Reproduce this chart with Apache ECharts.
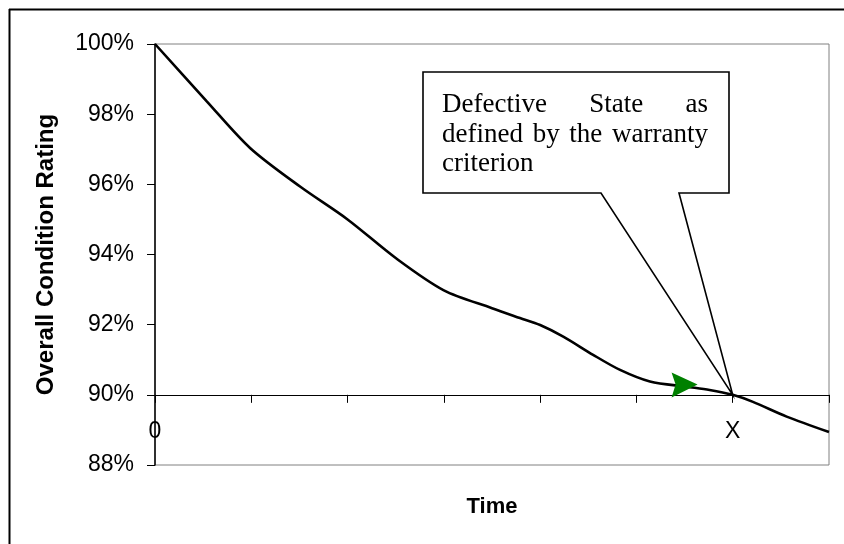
<!DOCTYPE html>
<html><head><meta charset="utf-8">
<script src="https://cdn.jsdelivr.net/npm/echarts@6/dist/echarts.min.js"></script>
<style>html,body{margin:0;padding:0;background:#fff}#c{width:844px;height:544px}</style>
</head><body><div id="c"></div>
<script>
// ---- data ----
const timeValues   = [0, 0.54, 0.99, 1.51, 2.00, 2.50, 3.00, 3.50, 3.79, 4.00, 4.24, 4.55, 4.83, 5.14, 5.52, 5.76, 6.00, 6.21, 6.56, 7.00];
const ratingValues = [100, 98.36, 97.03, 95.93, 95.00, 93.90, 92.98, 92.47, 92.19, 91.99, 91.66, 91.14, 90.71, 90.38, 90.23, 90.14, 90.00, 89.80, 89.38, 88.94];
const xLabelPositions = [0, 6];
const xLabelTexts = ['0', 'X'];
const thresholdTime = 6;
const thresholdRating = 90;
const arrowPoint = [5.50, 90.28];
const calloutLines = [['Defective', 'State', 'as'], ['defined', 'by', 'the', 'warranty'], ['criterion']];
const yAxisTitle = 'Overall Condition Rating';
const xAxisTitle = 'Time';

// ---- chart ----
const SANS = "'Liberation Sans', Arial, sans-serif";
const SERIF = "'Liberation Serif', 'Times New Roman', serif";
const chart = echarts.init(document.getElementById('c'), null, {renderer: 'canvas'});
const option = {
  animation: false,
  backgroundColor: '#fff',
  grid: {left: 155, top: 44, width: 674, height: 421, show: true, borderColor: '#808080', borderWidth: 1},
  xAxis: {
    type: 'value', min: 0, max: 7, interval: 1, position: 'bottom', offset: 0,
    axisLine: {show: true, onZero: false, lineStyle: {color: '#000', width: 1}},
    axisTick: {show: true, inside: false, length: 8, lineStyle: {color: '#000', width: 1}},
    axisLabel: {
      show: true, margin: 25, fontFamily: SANS, fontSize: 23, color: '#000',
      showMinLabel: true, showMaxLabel: true,
      formatter: v => { const i = xLabelPositions.indexOf(v); return i >= 0 ? xLabelTexts[i] : ''; }
    },
    splitLine: {show: false}
  },
  yAxis: {
    type: 'value', min: 88, max: 100, interval: 2,
    name: yAxisTitle, nameLocation: 'middle', nameRotate: 90, nameGap: 97,
    nameTextStyle: {fontFamily: SANS, fontSize: 24, fontWeight: 'bold', color: '#000'},
    axisLine: {show: true, onZero: false, lineStyle: {color: '#000', width: 1.5}},
    axisTick: {show: true, length: 8, lineStyle: {color: '#000', width: 1}},
    axisLabel: {margin: 21, fontFamily: SANS, fontSize: 23, color: '#000', formatter: '{value}%'},
    splitLine: {show: false}
  },
  series: [
    {type: 'line', data: timeValues.map((t, i) => [t, ratingValues[i]]), smooth: 0.3, showSymbol: false,
     lineStyle: {color: '#000', width: 2.6}, z: 3},
    {type: 'scatter', data: [arrowPoint], symbol: 'path://M0,0 L26,12 L0,25 L4,12 Z', symbolSize: [26, 25],
     itemStyle: {color: '#008000', opacity: 1}, z: 4}
  ]
};
chart.setOption(option);

// place x axis on the 90% line
const p90 = chart.convertToPixel({yAxisIndex: 0}, thresholdRating);
const pMin = chart.convertToPixel({yAxisIndex: 0}, 88);
const tip = chart.convertToPixel({xAxisIndex: 0, yAxisIndex: 0}, [thresholdTime, thresholdRating]);

// callout text layout (justified)
const ctx = document.createElement('canvas').getContext('2d');
const fontSize = 27;
ctx.font = fontSize + "px 'Liberation Serif'";
const textLeft = 442, textRight = 708, lineYs = [105, 134.5, 164];
const words = [];
calloutLines.forEach((ln, li) => {
  const widths = ln.map(w => ctx.measureText(w).width);
  const total = widths.reduce((a, b) => a + b, 0);
  const gap = (li < calloutLines.length - 1 && ln.length > 1) ? (textRight - textLeft - total) / (ln.length - 1) : ctx.measureText(' ').width;
  let x = textLeft;
  ln.forEach((w, wi) => {
    words.push({type: 'text', z: 20, style: {text: w, x: x, y: lineYs[li], font: fontSize + 'px ' + SERIF, fill: '#000', textAlign: 'left', textVerticalAlign: 'middle'}});
    x += widths[wi] + gap;
  });
});

chart.setOption({
  xAxis: {offset: p90 - pMin},
  graphic: [
    {type: 'line', z: 10, shape: {x1: 9, y1: 9.5, x2: 844, y2: 9.5}, style: {stroke: '#000', lineWidth: 2}},
    {type: 'line', z: 10, shape: {x1: 9.5, y1: 9, x2: 9.5, y2: 544}, style: {stroke: '#000', lineWidth: 2}},
    {type: 'polygon', z: 15, shape: {points: [[423, 72], [729, 72], [729, 193], [679, 193], tip, [601, 193], [423, 193]]},
     style: {fill: '#fff', stroke: '#000', lineWidth: 1.6}},
    ...words,
    {type: 'text', z: 10, style: {text: xAxisTitle, x: 492, y: 507, font: 'bold 22px ' + SANS, fill: '#000', textAlign: 'center', textVerticalAlign: 'middle'}}
  ]
});
</script></body></html>
